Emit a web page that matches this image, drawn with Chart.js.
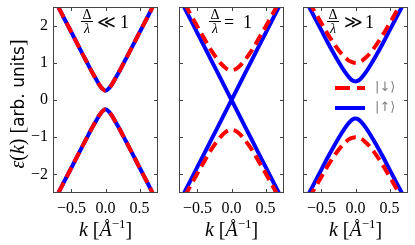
<!DOCTYPE html>
<html>
<head>
<meta charset="utf-8">
<script src="https://cdn.jsdelivr.net/npm/chart.js@4"></script>
<style>
  html, body { margin: 0; padding: 0; background: #fff; }
  #wrap { position: relative; width: 415px; height: 245px; }
  canvas { position: absolute; left: 0; top: 0; }
</style>
</head>
<body>
<div id="wrap">
  <canvas id="c1" width="415" height="245"></canvas>
  <canvas id="c2" width="415" height="245"></canvas>
  <canvas id="c3" width="415" height="245"></canvas>
</div>
<script>
// k grid (1/Angstrom) and tick labels
var kValues = [-0.8, -0.7, -0.6, -0.5, -0.4, -0.3, -0.2, -0.15, -0.1, -0.05, 0, 0.05, 0.1, 0.15, 0.2, 0.3, 0.4, 0.5, 0.6, 0.7, 0.8];
var xTicks = [-0.5, 0, 0.5];
var yTicks = [-2, -1, 0, 1, 2];

// panel 1 : delta/lambda << 1  (both spins on top of each other)
var p1Upper = [2.89, 2.53, 2.17, 1.82, 1.46, 1.11, 0.76, 0.60, 0.44, 0.31, 0.25, 0.31, 0.44, 0.60, 0.76, 1.11, 1.46, 1.82, 2.17, 2.53, 2.89];
var p1Lower = [-2.89, -2.53, -2.17, -1.82, -1.46, -1.11, -0.76, -0.60, -0.44, -0.31, -0.25, -0.31, -0.44, -0.60, -0.76, -1.11, -1.46, -1.82, -2.17, -2.53, -2.89];

// panel 2 : delta/lambda = 1
var p2UpUpper = [2.88, 2.52, 2.16, 1.80, 1.44, 1.08, 0.72, 0.54, 0.36, 0.18, 0, 0.18, 0.36, 0.54, 0.72, 1.08, 1.44, 1.80, 2.16, 2.52, 2.88];
var p2UpLower = [-2.88, -2.52, -2.16, -1.80, -1.44, -1.08, -0.72, -0.54, -0.36, -0.18, 0, -0.18, -0.36, -0.54, -0.72, -1.08, -1.44, -1.80, -2.16, -2.52, -2.88];
var p2DownUpper = [2.99, 2.64, 2.30, 1.97, 1.65, 1.34, 1.08, 0.97, 0.88, 0.82, 0.80, 0.82, 0.88, 0.97, 1.08, 1.34, 1.65, 1.97, 2.30, 2.64, 2.99];
var p2DownLower = [-2.99, -2.64, -2.30, -1.97, -1.65, -1.34, -1.08, -0.97, -0.88, -0.82, -0.80, -0.82, -0.88, -0.97, -1.08, -1.34, -1.65, -1.97, -2.30, -2.64, -2.99];

// panel 3 : delta/lambda >> 1
var p3UpUpper = [2.92, 2.57, 2.22, 1.87, 1.52, 1.19, 0.88, 0.74, 0.62, 0.53, 0.50, 0.53, 0.62, 0.74, 0.88, 1.19, 1.52, 1.87, 2.22, 2.57, 2.92];
var p3UpLower = [-2.92, -2.57, -2.22, -1.87, -1.52, -1.19, -0.88, -0.74, -0.62, -0.53, -0.50, -0.53, -0.62, -0.74, -0.88, -1.19, -1.52, -1.87, -2.22, -2.57, -2.92];
var p3DownUpper = [3.05, 2.71, 2.38, 2.06, 1.75, 1.47, 1.23, 1.14, 1.06, 1.02, 1.00, 1.02, 1.06, 1.14, 1.23, 1.47, 1.75, 2.06, 2.38, 2.71, 3.05];
var p3DownLower = [-3.05, -2.71, -2.38, -2.06, -1.75, -1.47, -1.23, -1.14, -1.06, -1.02, -1.00, -1.02, -1.06, -1.14, -1.23, -1.47, -1.75, -2.06, -2.38, -2.71, -3.05];

var labelDown = "|\u2193\u27E9";
var labelUp = "|\u2191\u27E9";

var RED = "#ff0000";
var BLUE = "#0000ff";
var SERIF = "'Liberation Serif', 'DejaVu Serif', serif";
var SANS = "'DejaVu Sans', sans-serif";

function pts(arr){
  return kValues.map(function(k, i){ return {x: k, y: arr[i]}; });
}

function minusFmt(v, digits){
  var s = digits ? Math.abs(v).toFixed(digits) : String(Math.abs(v));
  return (v < 0 ? "\u2212" : "") + s;
}

function redSet(label, arr){
  return { label: label, data: pts(arr), borderColor: RED, borderWidth: 4, borderDash: [11, 6],
           pointRadius: 0, fill: false, cubicInterpolationMode: "monotone", clip: 0 };
}
function blueSet(label, arr, straight){
  var d = { label: label, data: pts(arr), borderColor: BLUE, borderWidth: 4,
            pointRadius: 0, fill: false, clip: 0 };
  if (straight) d.tension = 0; else d.cubicInterpolationMode = "monotone";
  return d;
}

// draws a row of text pieces centred on x
function drawParts(ctx, parts, x, y){
  var w = 0;
  parts.forEach(function(p){ ctx.font = p[1]; w += ctx.measureText(p[0]).width; });
  var cx = x - w / 2;
  ctx.textAlign = "left";
  ctx.textBaseline = "alphabetic";
  parts.forEach(function(p){
    ctx.font = p[1];
    ctx.fillText(p[0], cx, y + (p[2] || 0));
    cx += ctx.measureText(p[0]).width;
  });
}

var decoPlugin = {
  id: "deco",
  afterDatasetsDraw: function(chart, args, opts){
    var ctx = chart.ctx, a = chart.chartArea;
    var xs = chart.scales.x, ys = chart.scales.y;
    ctx.save();
    // frame + inward ticks
    ctx.strokeStyle = "#444";
    ctx.lineWidth = 1;
    ctx.setLineDash([]);
    ctx.strokeRect(a.left + 0.5, a.top + 0.5, a.right - a.left - 1, a.bottom - a.top - 1);
    ctx.beginPath();
    xs.ticks.forEach(function(t){
      var px = Math.round(xs.getPixelForValue(t.value)) + 0.5;
      ctx.moveTo(px, a.bottom); ctx.lineTo(px, a.bottom - 4);
      ctx.moveTo(px, a.top); ctx.lineTo(px, a.top + 4);
    });
    ys.ticks.forEach(function(t){
      var py = Math.round(ys.getPixelForValue(t.value)) + 0.5;
      ctx.moveTo(a.left, py); ctx.lineTo(a.left + 4, py);
      ctx.moveTo(a.right, py); ctx.lineTo(a.right - 4, py);
    });
    ctx.stroke();

    ctx.fillStyle = "#000";
    // x title
    var mid = (a.left + a.right) / 2;
    drawParts(ctx, [
      ["k", "italic 20px " + SERIF],
      [" [", "20px " + SERIF],
      ["\u00C5", "italic 20px " + SERIF],
      ["\u22121", "13px " + SERIF, -8],
      ["]", "20px " + SERIF]
    ], mid, 236);

    // y title (first panel only)
    if (opts.yTitle){
      ctx.save();
      ctx.translate(24, 104);
      ctx.rotate(-Math.PI / 2);
      drawParts(ctx, [
        ["\u03B5", "italic 20px " + SERIF],
        ["(", "20px " + SERIF],
        ["k", "italic 20px " + SERIF],
        [")", "20px " + SERIF],
        [" [", "20px " + SERIF],
        ["arb. units", "17px " + SANS],
        ["]", "20px " + SERIF]
      ], 0, 0);
      ctx.restore();
    }

    // ratio annotation
    var n = opts.note;
    ctx.textAlign = "center";
    ctx.font = "14px " + SERIF;
    ctx.fillText("\u0394", n.cx, 19);
    ctx.font = "italic 14px " + SERIF;
    ctx.fillText("\u03BB", n.cx, 33);
    ctx.beginPath();
    ctx.moveTo(n.cx - 6, 21.5); ctx.lineTo(n.cx + 6, 21.5);
    ctx.strokeStyle = "#000";
    ctx.stroke();
    ctx.textAlign = "left";
    ctx.font = "18px " + SERIF;
    ctx.fillText(n.rel, n.relX, 28);
    ctx.fillText("1", n.oneX, 28);

    // legend inside the last panel
    if (opts.legend){
      var ds = chart.data.datasets;
      var rows = [[ds[0], 88], [ds[2], 108]];
      rows.forEach(function(r){
        ctx.beginPath();
        ctx.strokeStyle = r[0].borderColor;
        ctx.lineWidth = 4;
        ctx.setLineDash(r[0].borderDash ? [15, 7] : []);
        ctx.moveTo(335, r[1]); ctx.lineTo(365, r[1]);
        ctx.stroke();
        ctx.setLineDash([]);
        ctx.fillStyle = "#808080";
        ctx.font = "13px " + SANS;
        ctx.textBaseline = "middle";
        ctx.fillText(r[0].label, 375, r[1]);
      });
    }
    ctx.restore();
  }
};

function makeChart(id, datasets, padLeft, padRight, yAxisW, showY, deco){
  var ctx = document.getElementById(id);
  return new Chart(ctx, {
    type: "line",
    data: { datasets: datasets },
    options: {
      responsive: false,
      animation: false,
      devicePixelRatio: 1,
      layout: { autoPadding: false, padding: { left: padLeft, right: padRight, top: 7, bottom: 0 } },
      plugins: { legend: { display: false }, tooltip: { enabled: false }, deco: deco },
      scales: {
        x: {
          type: "linear", min: -0.77, max: 0.77,
          grid: { display: false, drawTicks: false }, border: { display: false },
          afterBuildTicks: function(s){ s.ticks = xTicks.map(function(v){ return {value: v}; }); },
          afterFit: function(s){ s.height = 52; s.paddingLeft = 0; s.paddingRight = 0; },
          ticks: { padding: 6, color: "#000", font: { family: SERIF, size: 16 },
                   maxRotation: 0, callback: function(v){ return minusFmt(v, 1); } }
        },
        y: {
          type: "linear", min: -2.5, max: 2.5,
          grid: { display: false, drawTicks: false }, border: { display: false },
          afterBuildTicks: function(s){ s.ticks = yTicks.map(function(v){ return {value: v}; }); },
          afterFit: function(s){ s.width = yAxisW; s.paddingTop = 0; s.paddingBottom = 0; },
          ticks: { display: showY, padding: 5, color: "#000", font: { family: SERIF, size: 16 },
                   callback: function(v){ return minusFmt(v); } }
        }
      }
    },
    plugins: [decoPlugin]
  });
}

makeChart("c1", [
  redSet(labelDown, p1Upper), redSet(labelDown, p1Lower),
  blueSet(labelUp, p1Upper), blueSet(labelUp, p1Lower)
], 0, 257, 53, true, { yTitle: true, note: { cx: 87, rel: "\u226A", relX: 97, oneX: 120 } });

makeChart("c2", [
  redSet(labelDown, p2DownUpper), redSet(labelDown, p2DownLower),
  blueSet(labelUp, p2UpUpper, true), blueSet(labelUp, p2UpLower, true)
], 179, 131, 0, false, { note: { cx: 215, rel: "=", relX: 224, oneX: 243 } });

makeChart("c3", [
  redSet(labelDown, p3DownUpper), redSet(labelDown, p3DownLower),
  blueSet(labelUp, p3UpUpper), blueSet(labelUp, p3UpLower)
], 303, 7, 0, false, { legend: true, note: { cx: 333, rel: "\u226B", relX: 344, oneX: 365 } });
</script>
</body>
</html>
